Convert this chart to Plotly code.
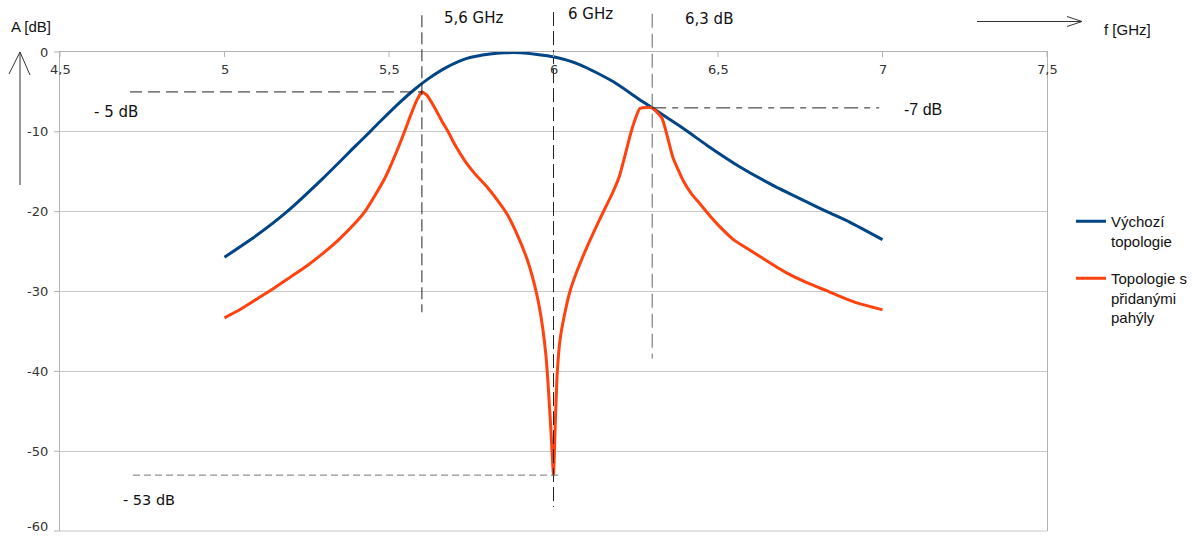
import plotly.graph_objects as go

# Frequency axis [GHz] and amplitude [dB]
freq_base = [5.00, 5.10, 5.19, 5.30, 5.40, 5.442, 5.473, 5.533, 5.58, 5.618, 5.676,
             5.737, 5.807, 5.85, 5.90, 5.95, 6.00, 6.081, 6.181, 6.263, 6.30, 6.363,
             6.409, 6.467, 6.567, 6.667, 6.771, 6.831, 6.90, 7.00]
amp_base = [-25.7, -22.9, -20.0, -15.8, -11.7, -10.0, -8.7, -6.3, -4.6, -3.4, -1.9,
            -0.8, -0.25, -0.1, -0.1, -0.3, -0.6, -1.6, -3.7, -6.0, -7.0, -8.7,
            -10.0, -11.7, -14.4, -16.7, -18.8, -20.0, -21.3, -23.5]

freq_stub = [5.00, 5.05, 5.10, 5.15, 5.20, 5.25, 5.30, 5.35, 5.40, 5.43, 5.46, 5.49,
             5.52, 5.545, 5.565, 5.585, 5.60, 5.615, 5.635, 5.66, 5.68, 5.70, 5.73,
             5.76, 5.80, 5.83, 5.86, 5.89, 5.92, 5.94, 5.955, 5.967, 5.977, 5.985,
             5.993, 6.000, 6.005, 6.011, 6.02, 6.035, 6.05, 6.07, 6.10, 6.14, 6.18,
             6.20, 6.217, 6.232, 6.245, 6.262, 6.28, 6.30, 6.318, 6.33, 6.345, 6.363,
             6.394, 6.42, 6.445, 6.475, 6.506, 6.55, 6.60, 6.65, 6.71, 6.77, 6.83,
             6.92, 7.00]
amp_stub = [-33.3, -32.2, -30.9, -29.6, -28.2, -26.8, -25.2, -23.4, -21.3, -19.8, -17.8, -15.6,
            -12.8, -10.2, -8.0, -6.0, -5.0, -5.4, -6.7, -8.6, -10.0, -11.6, -13.6,
            -15.2, -17.0, -18.6, -20.4, -22.9, -26.0, -28.8, -31.5, -34.5, -38.0, -42.5,
            -48.0, -53.0, -47.0, -40.5, -36.0, -32.6, -30.0, -27.6, -24.6, -21.0, -17.6,
            -15.6, -13.0, -10.6, -8.8, -7.1, -6.95, -7.0, -7.7, -8.3, -10.4, -13.2,
            -16.1, -17.8, -19.0, -20.5, -21.9, -23.6, -24.9, -26.2, -27.7, -28.9, -29.9,
            -31.4, -32.3]

x_ticks = [4.5, 5, 5.5, 6, 6.5, 7, 7.5]
x_ticktext = ["4,5", "5", "5,5", "6", "6,5", "7", "7,5"]
y_ticks = [0, -10, -20, -30, -40, -50, -60]
y_ticktext = ["0", "-10", "-20", "-30", "-40", "-50", "-60"]

# Marked points
f_left, a_left = 5.6, -5.0
f_notch, a_notch = 6.0, -53.0
f_right, a_right = 6.3, -7.0

X0, X1 = 4.5, 7.5
Y0, Y1 = -60.0, 0.0

W, H = 1200, 537
ML, MR, MT, MB = 60, 153, 52, 6
PW, PH = W - ML - MR, H - MT - MB


def xp(f):
    return (f - X0) / (X1 - X0)


def yp(a):
    return (a - Y0) / (Y1 - Y0)


def pxp(px):
    return (px - ML) / PW


def pyp(py):
    return (H - MB - py) / PH


fig = go.Figure()
fig.add_trace(go.Scatter(x=freq_base, y=amp_base, mode="lines", name="Výchozí<br>topologie",
                         line=dict(color="#004586", width=3, shape="spline", smoothing=0.6),
                         legendgroup="a"))
fig.add_trace(go.Scatter(x=freq_stub, y=amp_stub, mode="lines", name="Topologie s<br>přidanými<br>pahýly",
                         line=dict(color="#ff420e", width=3, shape="spline", smoothing=0.5),
                         legendgroup="b"))

shapes = []


def seg(x0, y0, x1, y1, color="#222", dash="solid", width=1):
    shapes.append(dict(type="line", xref="paper", yref="paper", x0=x0, y0=y0, x1=x1, y1=y1,
                       line=dict(color=color, width=width, dash=dash)))


# Bottom frame line at -60 dB
seg(0, yp(Y0), 1, yp(Y0), color="#c8c8c8")

# Guide lines at the marked points
seg(xp(4.713), yp(a_left), xp(f_left), yp(a_left), dash="12px,6px")
seg(xp(f_left), yp(4.6), xp(f_left), yp(-32.6), dash="12px,5px")
seg(xp(f_notch), yp(5.0), xp(f_notch), yp(-57.0), color="#222", dash="14px,5px")
seg(xp(f_right), yp(4.8), xp(f_right), yp(-38.4), color="#666", dash="14px,6px")
seg(xp(f_right), yp(a_right), xp(6.99), yp(a_right), dash="14px,6px,6px,6px")
seg(xp(4.722), yp(a_notch), xp(6.026), yp(a_notch), color="#777", dash="7px,4px")

# Axis arrows
seg(pxp(20), pyp(185), pxp(20), pyp(52), color="#333")
seg(pxp(9), pyp(74), pxp(20), pyp(52), color="#333")
seg(pxp(30), pyp(75), pxp(20), pyp(52), color="#333")
seg(pxp(977), pyp(21.5), pxp(1082), pyp(21.5), color="#333")
seg(pxp(1067), pyp(16.5), pxp(1082), pyp(21.5), color="#333")
seg(pxp(1067), pyp(26.5), pxp(1082), pyp(21.5), color="#333")

# Tick marks
for v in x_ticks:
    seg(xp(v), 1, xp(v), pyp(MT + 5), color="#b3b3b3")
for v in y_ticks:
    seg(pxp(ML - 6), yp(v), 0, yp(v), color="#b3b3b3")

annotations = []

tick_font = dict(family="DejaVu Sans", size=13, color="#333")
for v, t in zip(x_ticks, x_ticktext):
    annotations.append(dict(text=t, xref="paper", yref="paper", x=xp(v), y=pyp(69),
                            xanchor="center", yanchor="middle", showarrow=False, font=tick_font))
for v, t in zip(y_ticks, y_ticktext):
    # keep the lowest label inside the page
    ya = "bottom" if v == Y0 else "middle"
    yy = pyp(H - 1) if v == Y0 else yp(v)
    annotations.append(dict(text=t, xref="paper", yref="paper", x=pxp(50), y=yy,
                            xanchor="right", yanchor=ya, showarrow=False, font=tick_font))


def label(text, px, py, size=15, family="DejaVu Sans"):
    annotations.append(dict(text=text, xref="paper", yref="paper", x=pxp(px), y=pyp(py),
                            xanchor="left", yanchor="middle", showarrow=False,
                            font=dict(family=family, size=size, color="#111")))


label("A [dB]", 9, 27, 15, "Liberation Sans")
label("f [GHz]", 1102, 30, 15, "Liberation Sans")
label("5,6 GHz", 442, 18, 15)
label("6 GHz", 566, 14, 15)
label("6,3 dB", 683, 19, 15)
label("- 5 dB", 92, 112, 15)
label("-7 dB", 902, 109, 16, "Liberation Sans")
label("- 53 dB", 121, 500, 14.5)

fig.update_layout(
    width=W, height=H,
    margin=dict(l=ML, r=MR, t=MT, b=MB),
    paper_bgcolor="white", plot_bgcolor="white",
    shapes=shapes, annotations=annotations,
    legend=dict(x=pxp(1071), y=pyp(205), xanchor="left", yanchor="top", valign="top",
                font=dict(family="Liberation Sans", size=15, color="#111"),
                tracegroupgap=15, bgcolor="rgba(0,0,0,0)"),
    xaxis=dict(range=[X0, X1], side="top", showticklabels=False, ticks="",
               showline=True, linecolor="#b3b3b3", showgrid=False, zeroline=False),
    yaxis=dict(range=[Y0, Y1], tickvals=y_ticks, showticklabels=False, ticks="",
               showline=True, mirror=True, linecolor="#b3b3b3",
               showgrid=True, gridcolor="#c8c8c8", zeroline=False),
)

fig.write_html("out.html")
